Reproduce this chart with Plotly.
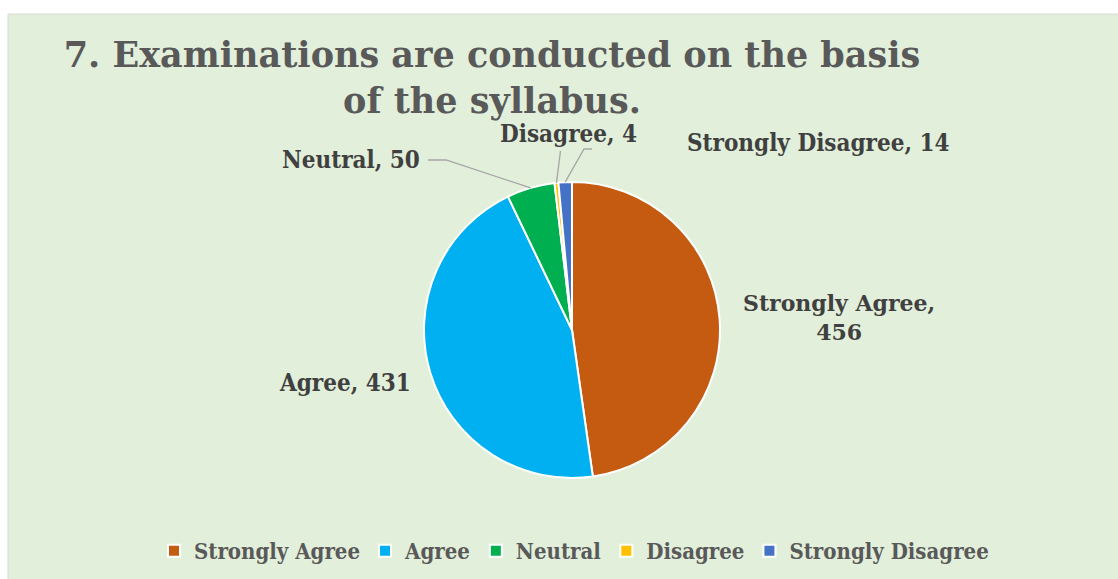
import math
import plotly.graph_objects as go

# ---- data ----
categories = ["Strongly Agree", "Agree", "Neutral", "Disagree", "Strongly Disagree"]
values = [456, 431, 50, 4, 14]
colors = ["#C55A11", "#00B0F0", "#00B050", "#FFC000", "#4472C4"]
title_text = "7. Examinations are conducted on the basis<br>of the syllabus."

W, H = 1118, 579
CX, CY, R = 572, 330, 148  # pie centre / radius in px (layout)

TXT = "#404040"
GREY = "#595959"
SERIF = "DejaVu Serif"
COND = "DejaVu Serif Condensed, Liberation Serif, serif"

fig = go.Figure()
fig.add_trace(go.Pie(
    labels=categories, values=values, sort=False, direction="clockwise", rotation=0,
    marker=dict(colors=colors, line=dict(color="white", width=2)),
    textinfo="none", hoverinfo="label+value",
    domain=dict(x=[(CX - R) / W, (CX + R) / W], y=[1 - (CY + R) / H, 1 - (CY - R) / H]),
))

# slice mid-angle edge points computed from the data
total = sum(values)
edge = []
cum = 0
for v in values:
    mid = (cum + v / 2) / total * 2 * math.pi
    cum += v
    edge.append((CX + R * math.sin(mid), CY - R * math.cos(mid)))

def px(x, y):
    return x / W, 1 - y / H

# label layout positions (text centres, px) -- layout only
label_pos = {
    "Strongly Agree": (839, 317),
    "Agree": (345, 383),
    "Neutral": (351, 160),
    "Disagree": (568, 134),
    "Strongly Disagree": (818, 142),
}
annotations = []
for cat, val in zip(categories, values):
    x, y = label_pos[cat]
    if cat == "Strongly Agree":
        text = f"{cat},<br>{val}"
        fam, size = SERIF, 22
    else:
        text = f"{cat}, {val}"
        fam, size = COND, 24
    X, Y = px(x, y)
    annotations.append(dict(x=X, y=Y, xref="paper", yref="paper", text=text, showarrow=False,
                            font=dict(family=fam, size=size, color=TXT, weight="bold"),
                            xanchor="center", yanchor="middle"))

shapes = [dict(type="rect", xref="paper", yref="paper", x0=8 / W, x1=1.01, y0=-0.01, y1=1 - 14 / H,
               fillcolor="#E2EFDA", line=dict(color="#D9D9D9", width=1), layer="below")]

def leader(points):
    path = "M " + " L ".join(f"{px(a, b)[0]},{px(a, b)[1]}" for a, b in points)
    return dict(type="path", xref="paper", yref="paper", path=path,
                line=dict(color="#A6A6A6", width=1.3))

ni = categories.index("Neutral")
di = categories.index("Disagree")
si = categories.index("Strongly Disagree")
shapes.append(leader([(428, 160), (446, 160), edge[ni]]))
shapes.append(leader([(edge[di][0] + 4, 151), edge[di]]))
shapes.append(leader([(592, 149), (584, 149), edge[si]]))

fig.update_layout(
    width=W, height=H,
    margin=dict(l=0, r=0, t=0, b=0),
    paper_bgcolor="white",
    title=dict(text=title_text, x=492 / W, xanchor="center", y=1 - 67 / H, yanchor="middle",
               yref="container", font=dict(family=SERIF, size=35, color=GREY, weight="bold")),
    legend=dict(orientation="h", x=574 / W, xanchor="center", y=1 - 551 / H, yanchor="middle",
                font=dict(family=COND, size=22, color=GREY, weight="bold"),
                bgcolor="rgba(0,0,0,0)", itemwidth=30),
    annotations=annotations,
    shapes=shapes,
)

fig.write_html("out.html", config={"displayModeBar": False},
               post_script="document.body.style.margin='0';")
